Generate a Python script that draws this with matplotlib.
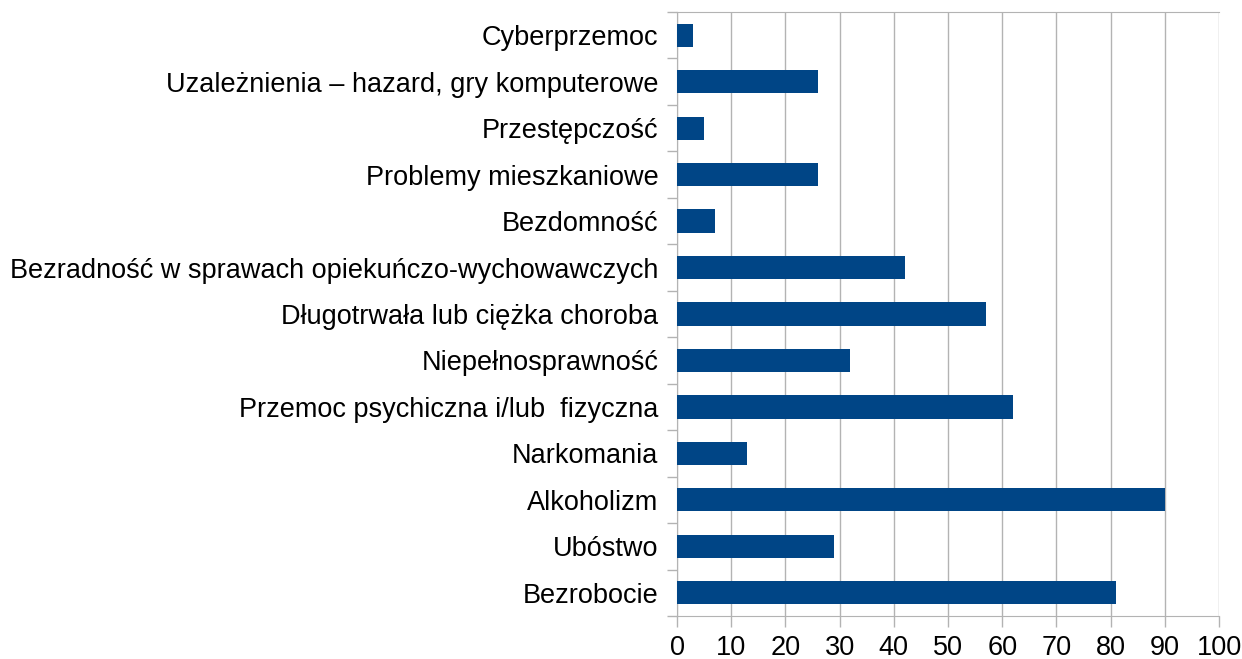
import numpy as np
import matplotlib.pyplot as plt

plt.rcParams['font.family'] = ['Liberation Sans', 'DejaVu Sans']

categories = [
    "Bezrobocie",
    "Ubóstwo",
    "Alkoholizm",
    "Narkomania",
    "Przemoc psychiczna i/lub  fizyczna",
    "Niepełnosprawność",
    "Długotrwała lub ciężka choroba",
    "Bezradność w sprawach opiekuńczo-wychowawczych",
    "Bezdomność",
    "Problemy mieszkaniowe",
    "Przestępczość",
    "Uzależnienia – hazard, gry komputerowe",
    "Cyberprzemoc",
]
values = [81, 29, 90, 13, 62, 32, 57, 42, 7, 26, 5, 26, 3]
x_ticks = [0, 10, 20, 30, 40, 50, 60, 70, 80, 90, 100]

BAR_COLOR = "#004586"
GRID_COLOR = "#b3b3b3"

fig = plt.figure(figsize=(12.42, 6.59), dpi=100)
ax = fig.add_axes([0.5451, 0.0653, 0.4364, 0.9165])

pos = np.arange(len(categories))
ax.barh(pos, values, height=0.5, color=BAR_COLOR, zorder=3)

ax.set_xlim(0, 100)
ax.set_ylim(-0.5, len(categories) - 0.5)
ax.set_xticks(x_ticks)
ax.set_xticklabels([str(t) for t in x_ticks], fontsize=19.5)
ax.set_yticks(pos)
ax.set_yticklabels(categories, fontsize=19.5)
ax.set_yticks(np.arange(len(categories) + 1) - 0.5, minor=True)

ax.grid(axis="x", color=GRID_COLOR, linewidth=1, zorder=0)
ax.tick_params(axis="y", which="major", length=0, pad=13.5)
ax.tick_params(axis="y", which="minor", length=7.2, color=GRID_COLOR, width=1)
ax.tick_params(axis="x", length=8, color=GRID_COLOR, width=1, pad=6)

for side in ["left", "bottom", "top"]:
    ax.spines[side].set_color(GRID_COLOR)
ax.spines["right"].set_visible(False)

fig.savefig("out.png", dpi=100)
